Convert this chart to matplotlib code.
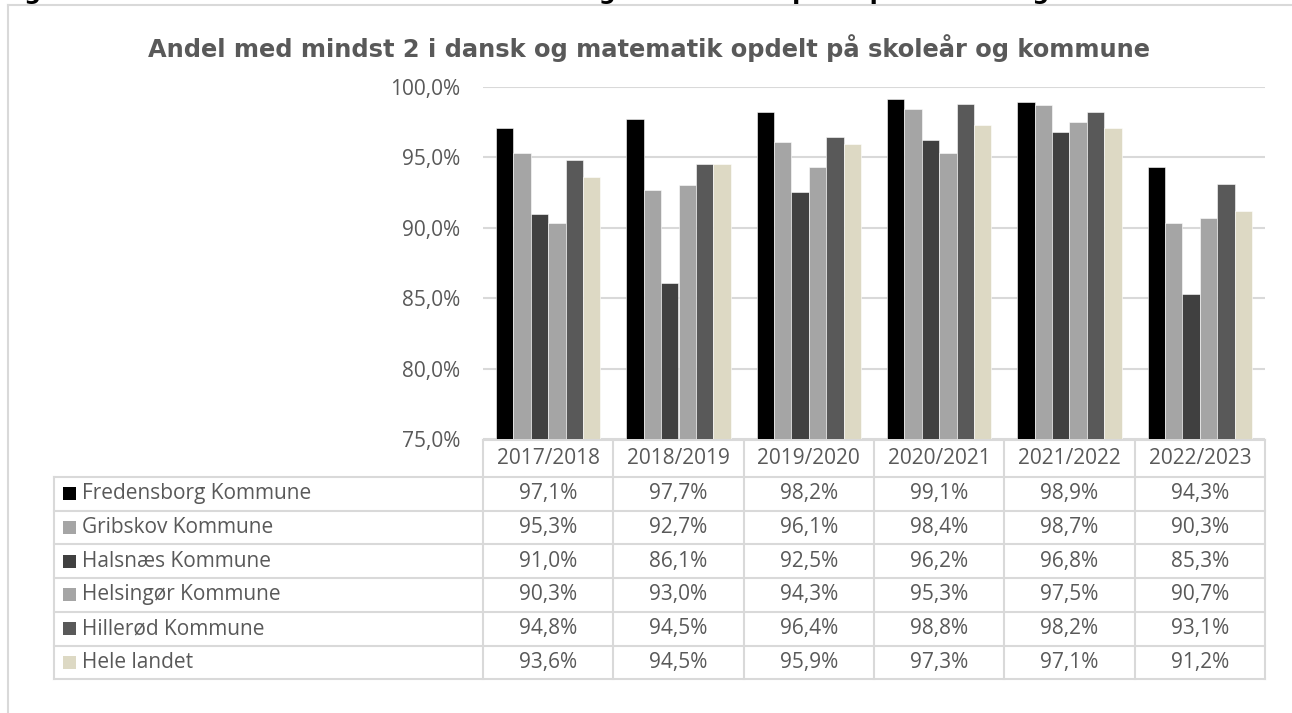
import matplotlib
matplotlib.use("Agg")
import matplotlib.pyplot as plt
from matplotlib.lines import Line2D
from matplotlib.patches import Rectangle
import numpy as np

years = ["2017/2018", "2018/2019", "2019/2020", "2020/2021", "2021/2022", "2022/2023"]
series_names = ["Fredensborg Kommune", "Gribskov Kommune", "Halsnæs Kommune",
                "Helsingør Kommune", "Hillerød Kommune", "Hele landet"]
fredensborg = [97.1, 97.7, 98.2, 99.1, 98.9, 94.3]
gribskov = [95.3, 92.7, 96.1, 98.4, 98.7, 90.3]
halsnaes = [91.0, 86.1, 92.5, 96.2, 96.8, 85.3]
helsingoer = [90.3, 93.0, 94.3, 95.3, 97.5, 90.7]
hilleroed = [94.8, 94.5, 96.4, 98.8, 98.2, 93.1]
hele_landet = [93.6, 94.5, 95.9, 97.3, 97.1, 91.2]
series_values = [fredensborg, gribskov, halsnaes, helsingoer, hilleroed, hele_landet]
yticks = [75, 80, 85, 90, 95, 100]

colors = ["#000000", "#A5A5A5", "#404040", "#A5A5A5", "#595959", "#DDD9C4"]
title = "Andel med mindst 2 i dansk og matematik opdelt på skoleår og kommune"
caption = "Figur 7: Andel elever med mindst 2 i dansk og matematik opdelt på skoleår og kommune"

W, H = 1292, 713
fig = plt.figure(figsize=(W / 100, H / 100), dpi=100)
fig.patch.set_facecolor("white")

FONT = "Open Sans"
TXT = "#595959"
GRID = "#D9D9D9"
FS = 15

# overlay axes in pixel coordinates for frame/table
ov = fig.add_axes([0, 0, 1, 1])
ov.set_xlim(0, W)
ov.set_ylim(H, 0)
ov.axis("off")

# outer frame
ov.add_line(Line2D([8, 8], [5, H], color=GRID, lw=1.5))
ov.add_line(Line2D([8, W], [5, 5], color=GRID, lw=1.5))

# caption cut off at top edge (only its lowest part is visible, as in the reference)
ov.text(0, -1.5, caption, fontsize=17, fontweight="bold", family="DejaVu Sans",
        color="black", ha="left", va="baseline", clip_on=False)

# title
ov.text(649, 48, title, fontsize=17.4, fontweight="bold", family="DejaVu Sans",
        color=TXT, ha="center", va="center")

# plot area
x0, x1 = 483, 1265
ytop, ybot = 86.7, 439
ax = fig.add_axes([x0 / W, 1 - ybot / H, (x1 - x0) / W, (ybot - ytop) / H])
n = len(years)
ns = len(series_names)
x = np.arange(n)
bw = 0.8 / ns
for i, (vals, c) in enumerate(zip(series_values, colors)):
    ax.bar(x - 0.4 + bw * (i + 0.5), vals, width=bw, color=c, zorder=3,
           edgecolor="white", linewidth=0.4)
ax.set_xlim(-0.5, n - 0.5)
ax.set_ylim(75, 100)
ax.set_yticks(yticks)
ax.set_yticklabels([f"{v:.1f}%".replace(".", ",") for v in yticks],
                   fontsize=FS, color=TXT, family=FONT)
ax.yaxis.grid(True, color=GRID, lw=1.5, zorder=0)
ax.tick_params(axis="y", length=0, pad=16.5)
ax.set_xticks([])
for s in ax.spines.values():
    s.set_visible(False)
ax.set_facecolor("none")

# data table
col_w = (x1 - x0) / n
head_top, head_bot = 440, 477
row_h = 33.7
left = 54
tl = dict(color=GRID, lw=1.5)
ov.add_line(Line2D([x0, x1], [head_top, head_top], **tl))
for j in range(n + 1):
    xx = x0 + j * col_w
    ov.add_line(Line2D([xx, xx], [head_top, head_bot + ns * row_h], **tl))
for j, yr in enumerate(years):
    ov.text(x0 + (j + 0.5) * col_w, (head_top + head_bot) / 2, yr,
            fontsize=FS, color=TXT, family=FONT, ha="center", va="center")
for r in range(ns + 1):
    yy = head_bot + r * row_h
    ov.add_line(Line2D([left, x1], [yy, yy], **tl))
ov.add_line(Line2D([left, left], [head_bot, head_bot + ns * row_h], **tl))
for r, (name, vals, c) in enumerate(zip(series_names, series_values, colors)):
    yc = head_bot + (r + 0.5) * row_h
    ov.add_patch(Rectangle((63, yc - 6.5), 13, 13, facecolor=c, edgecolor="none"))
    ov.text(82, yc, name, fontsize=FS, color=TXT, family=FONT,
            ha="left", va="center")
    for j, v in enumerate(vals):
        ov.text(x0 + (j + 0.5) * col_w, yc, f"{v:.1f}%".replace(".", ","),
                fontsize=FS, color=TXT, family=FONT, ha="center", va="center")

fig.savefig("out.png", dpi=100)
